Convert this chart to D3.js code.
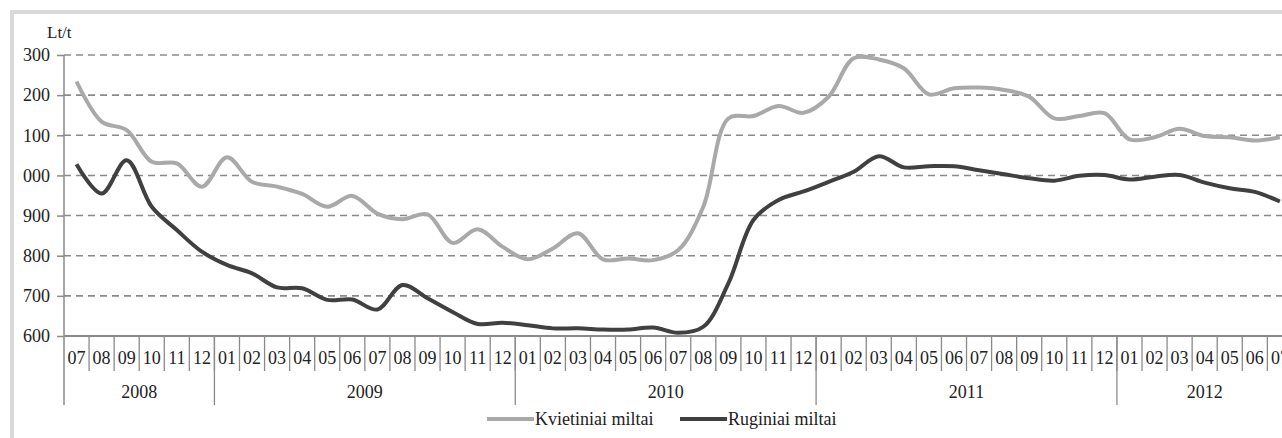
<!DOCTYPE html>
<html>
<head>
<meta charset="utf-8">
<script src="https://cdn.jsdelivr.net/npm/d3@7"></script>
<style>
  html, body { margin: 0; padding: 0; background: #fff; overflow: hidden; }
  svg text { font-family: "Liberation Serif", "Times New Roman", serif !important; fill: #222; }
</style>
</head>
<body>
<div id="chart"></div>
<script>
var months = ["07","08","09","10","11","12",
  "01","02","03","04","05","06","07","08","09","10","11","12",
  "01","02","03","04","05","06","07","08","09","10","11","12",
  "01","02","03","04","05","06","07","08","09","10","11","12",
  "01","02","03","04","05","06","07"];
var years = ["2008", "2009", "2010", "2011", "2012"];
var yearMonths = [6, 12, 12, 12, 7];

var kvietiniai = [1234, 1134, 1113, 1034, 1030, 972,
  1045, 984, 972, 954, 922, 949, 905, 891, 903, 832, 866, 822,
  791, 818, 856, 791, 793, 789, 814, 922, 1142, 1148, 1173, 1156,
  1196, 1292, 1289, 1267, 1202, 1217, 1219, 1213, 1196, 1142, 1148, 1155,
  1090, 1095, 1116, 1098, 1095, 1087, 1095];
var ruginiai = [1028, 955, 1038, 922, 864, 810,
  777, 756, 721, 719, 690, 691, 666, 727, 694, 660, 630, 633,
  627, 619, 619, 616, 616, 621, 608, 623, 731, 889, 939, 960,
  984, 1009, 1048, 1020, 1023, 1023, 1013, 1003, 993, 987, 999, 1001,
  990, 997, 1001, 982, 968, 959, 935];

var yTicks = [600, 700, 800, 900, 1000, 1100, 1200, 1300];
var yTickLabels = ["600", "700", "800", "900", "000", "100", "200", "300"];
var seriesNames = ["Kvietiniai miltai", "Ruginiai miltai"];

var W = 1282, H = 438;
var plotLeft = 64, plotTop = 55, plotBottom = 336;
var band = 25.07;

var svg = d3.select("#chart").append("svg")
    .attr("width", W)
    .attr("height", H);

svg.append("rect")
    .attr("x", 12).attr("y", 12)
    .attr("width", W + 20).attr("height", H + 20)
    .attr("fill", "#fff")
    .attr("stroke", "#d9d9d9")
    .attr("stroke-width", 4);

var idx = d3.range(months.length);

var x = d3.scaleBand()
    .domain(idx)
    .range([plotLeft, plotLeft + band * months.length]);

var y = d3.scaleLinear()
    .domain([600, 1300])
    .range([plotBottom, plotTop]);

// gridlines
svg.append("g")
    .selectAll("line")
    .data(yTicks.slice(1))
    .enter().append("line")
    .attr("x1", plotLeft).attr("x2", W)
    .attr("y1", function (d) { return y(d); })
    .attr("y2", function (d) { return y(d); })
    .attr("stroke", "#8a8a8a")
    .attr("stroke-width", 1.6)
    .attr("stroke-dasharray", "7,5");

// y axis
var yAxis = svg.append("g")
    .attr("transform", "translate(" + plotLeft + ",0)")
    .call(d3.axisLeft(y)
        .tickValues(yTicks)
        .tickSize(7)
        .tickPadding(7)
        .tickFormat(function (d, i) { return yTickLabels[i]; }));
yAxis.select(".domain").remove();
yAxis.selectAll("line").attr("stroke", "#8a8a8a").attr("stroke-width", 1.5);
yAxis.selectAll("text")
    .style("font-size", "18px")
    .attr("fill", "#222");

svg.append("line")
    .attr("x1", plotLeft).attr("x2", plotLeft)
    .attr("y1", plotTop).attr("y2", 405)
    .attr("stroke", "#8a8a8a").attr("stroke-width", 1.5);

svg.append("line")
    .attr("x1", plotLeft).attr("x2", W)
    .attr("y1", plotBottom).attr("y2", plotBottom)
    .attr("stroke", "#8a8a8a").attr("stroke-width", 2);

svg.append("text")
    .attr("x", 47).attr("y", 38)
    .style("font-size", "17px")
    .text("Lt/t");

// month separators and labels
var xg = svg.append("g");
xg.selectAll("line.m")
    .data(idx.slice(1))
    .enter().append("line")
    .attr("x1", function (d) { return x(d); })
    .attr("x2", function (d) { return x(d); })
    .attr("y1", plotBottom).attr("y2", 371)
    .attr("stroke", "#8a8a8a").attr("stroke-width", 1.3);

xg.selectAll("text.m")
    .data(idx)
    .enter().append("text")
    .attr("x", function (d) { return x(d) + x.bandwidth() / 2; })
    .attr("y", 364)
    .attr("text-anchor", "middle")
    .style("font-size", "18px")
    .text(function (d) { return months[d]; });

var starts = [0];
yearMonths.forEach(function (n, i) { starts.push(starts[i] + n); });

xg.selectAll("line.y")
    .data(starts.slice(1, years.length))
    .enter().append("line")
    .attr("x1", function (d) { return x(d); })
    .attr("x2", function (d) { return x(d); })
    .attr("y1", plotBottom).attr("y2", 405)
    .attr("stroke", "#8a8a8a").attr("stroke-width", 1.3);

xg.selectAll("text.y")
    .data(years)
    .enter().append("text")
    .attr("x", function (d, i) { return x(starts[i]) + yearMonths[i] * band / 2; })
    .attr("y", 398)
    .attr("text-anchor", "middle")
    .style("font-size", "18px")
    .text(function (d) { return d; });

// lines
var line = d3.line()
    .x(function (d, i) { return x(i) + x.bandwidth() / 2; })
    .y(function (d) { return y(d); })
    .curve(d3.curveCatmullRom.alpha(0.5));

var colors = ["#a9a9a9", "#404040"];

[kvietiniai, ruginiai].forEach(function (s, i) {
    svg.append("path")
        .datum(s)
        .attr("d", line)
        .attr("fill", "none")
        .attr("stroke", colors[i])
        .attr("stroke-width", 4)
        .attr("stroke-linejoin", "round");
});

// legend
var legendX = [487, 680];
var lg = svg.append("g");
seriesNames.forEach(function (name, i) {
    lg.append("line")
        .attr("x1", legendX[i]).attr("x2", legendX[i] + 47)
        .attr("y1", 419).attr("y2", 419)
        .attr("stroke", colors[i]).attr("stroke-width", 4);
    lg.append("text")
        .attr("x", legendX[i] + 48).attr("y", 425)
        .style("font-size", "18px")
        .text(name);
});
</script>
</body>
</html>
